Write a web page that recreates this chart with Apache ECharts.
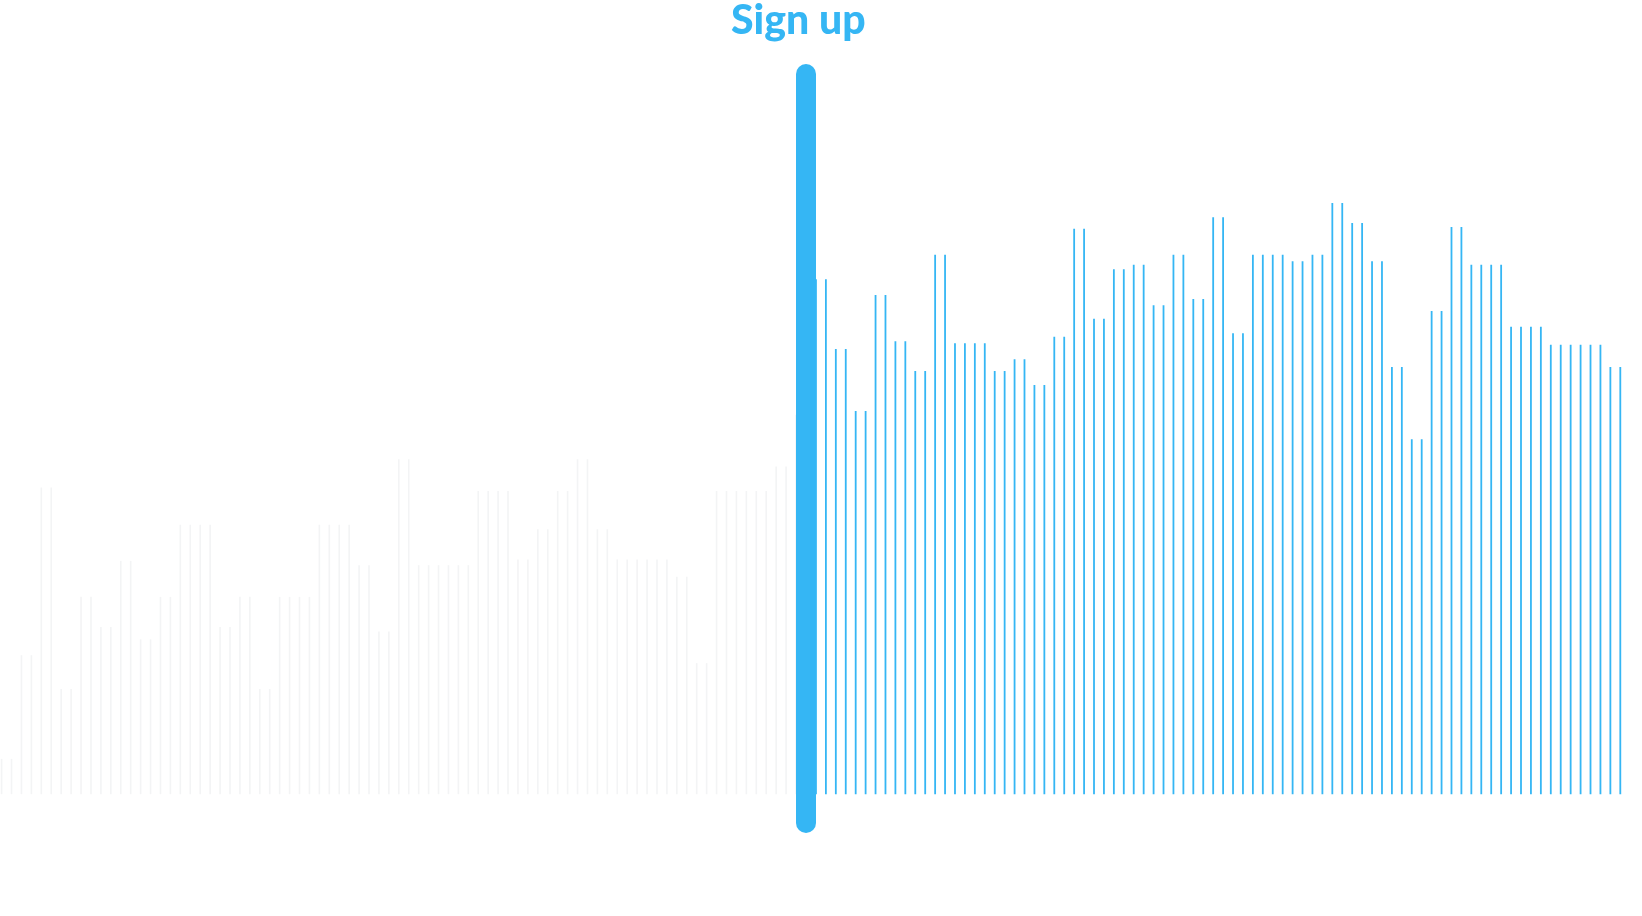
<!DOCTYPE html>
<html>
<head>
<meta charset="utf-8">
<script src="https://cdn.jsdelivr.net/npm/echarts@6/dist/echarts.min.js"></script>
<style>
html, body { margin: 0; padding: 0; background: #fff; }
#chart { width: 1642px; height: 916px; }
</style>
</head>
<body>
<div id="chart"></div>
<script>
// 注册前（灰色）每根竖线的值
var beforeValues = [
	4.9, 4.9, 19.3, 19.3, 42.6, 42.6, 14.6, 14.6, 27.4, 27.4,
	23.2, 23.2, 32.4, 32.4, 21.5, 21.5, 27.4, 27.4, 37.4, 37.4,
	37.4, 37.4, 23.2, 23.2, 27.4, 27.4, 14.6, 14.6, 27.4, 27.4,
	27.4, 27.4, 37.4, 37.4, 37.4, 37.4, 31.8, 31.8, 22.6, 22.6,
	46.5, 46.5, 31.8, 31.8, 31.8, 31.8, 31.8, 31.8, 42.1, 42.1,
	42.1, 42.1, 32.6, 32.6, 36.8, 36.8, 42.1, 42.1, 46.5, 46.5,
	36.8, 36.8, 32.6, 32.6, 32.6, 32.6, 32.6, 32.6, 30.2, 30.2,
	18.2, 18.2, 42.1, 42.1, 42.1, 42.1, 42.1, 42.1, 45.5, 45.5,
	52.7, 52.7
];
// 注册后（蓝色）每根竖线的值
var afterValues = [
	71.5, 71.5, 61.8, 61.8, 53.2, 53.2, 69.3, 69.3, 62.9, 62.9,
	58.75, 58.75, 74.9, 74.9, 62.6, 62.6, 62.6, 62.6, 58.75, 58.75,
	60.4, 60.4, 56.8, 56.8, 63.5, 63.5, 78.5, 78.5, 66.0, 66.0,
	72.9, 72.9, 73.5, 73.5, 67.9, 67.9, 74.9, 74.9, 68.75, 68.75,
	80.1, 80.1, 64.0, 64.0, 74.9, 74.9, 74.9, 74.9, 74.0, 74.0,
	74.9, 74.9, 82.1, 82.1, 79.3, 79.3, 74.0, 74.0, 59.3, 59.3,
	49.3, 49.3, 67.1, 67.1, 78.75, 78.75, 73.5, 73.5, 73.5, 73.5,
	64.9, 64.9, 64.9, 64.9, 62.4, 62.4, 62.4, 62.4, 62.4, 62.4,
	59.3, 59.3
];
var signUpLabel = 'Sign up';
var signUpIndex = beforeValues.length - 1; // 注册线所在的位置

var blue = '#35b6f4';

// x轴类目
var days = [];
for (var i = 0; i < beforeValues.length + afterValues.length; i++) {
	days.push(String(i + 1));
}
var beforeData = [], afterData = [];
for (var i = 0; i < days.length; i++) {
	beforeData.push(i < beforeValues.length ? beforeValues[i] : '-');
	afterData.push(i < beforeValues.length ? '-' : afterValues[i - beforeValues.length]);
}

var myChart = echarts.init(document.getElementById('chart'));

var option = {
	backgroundColor : '#ffffff',
	animation : false,
	title : {
		text : signUpLabel,
		left : 731,
		top : 0,
		padding : 0,
		textStyle : {
			color : blue,
			fontFamily : 'Lato',
			fontWeight : 900,
			fontSize : 41
		}
	},
	grid : {
		left : 1.7,
		right : 21.7,
		top : 74,
		bottom : 93
	},
	xAxis : {
		type : 'category',
		data : days,
		boundaryGap : false,
		show : false
	},
	yAxis : {
		type : 'value',
		min : -4,
		max : 100,
		show : false
	},
	series : [ {
		name : 'before',
		type : 'bar',
		data : beforeData,
		barWidth : 1.6,
		barGap : '-100%',
		clip : false,
		itemStyle : {
			color : '#f3f4f5'
		}
	}, {
		name : 'after',
		type : 'bar',
		data : afterData,
		barWidth : 1.8,
		barGap : '-100%',
		clip : false,
		itemStyle : {
			color : blue
		},
		markLine : {
			silent : true,
			symbol : [ 'none', 'none' ],
			label : {
				show : false
			},
			lineStyle : {
				color : blue,
				width : 20,
				type : 'solid',
				cap : 'round'
			},
			data : [ [ {
				xAxis : signUpIndex,
				yAxis : -4
			}, {
				xAxis : signUpIndex,
				yAxis : 100
			} ] ]
		}
	} ]
};

myChart.setOption(option);
</script>
</body>
</html>
